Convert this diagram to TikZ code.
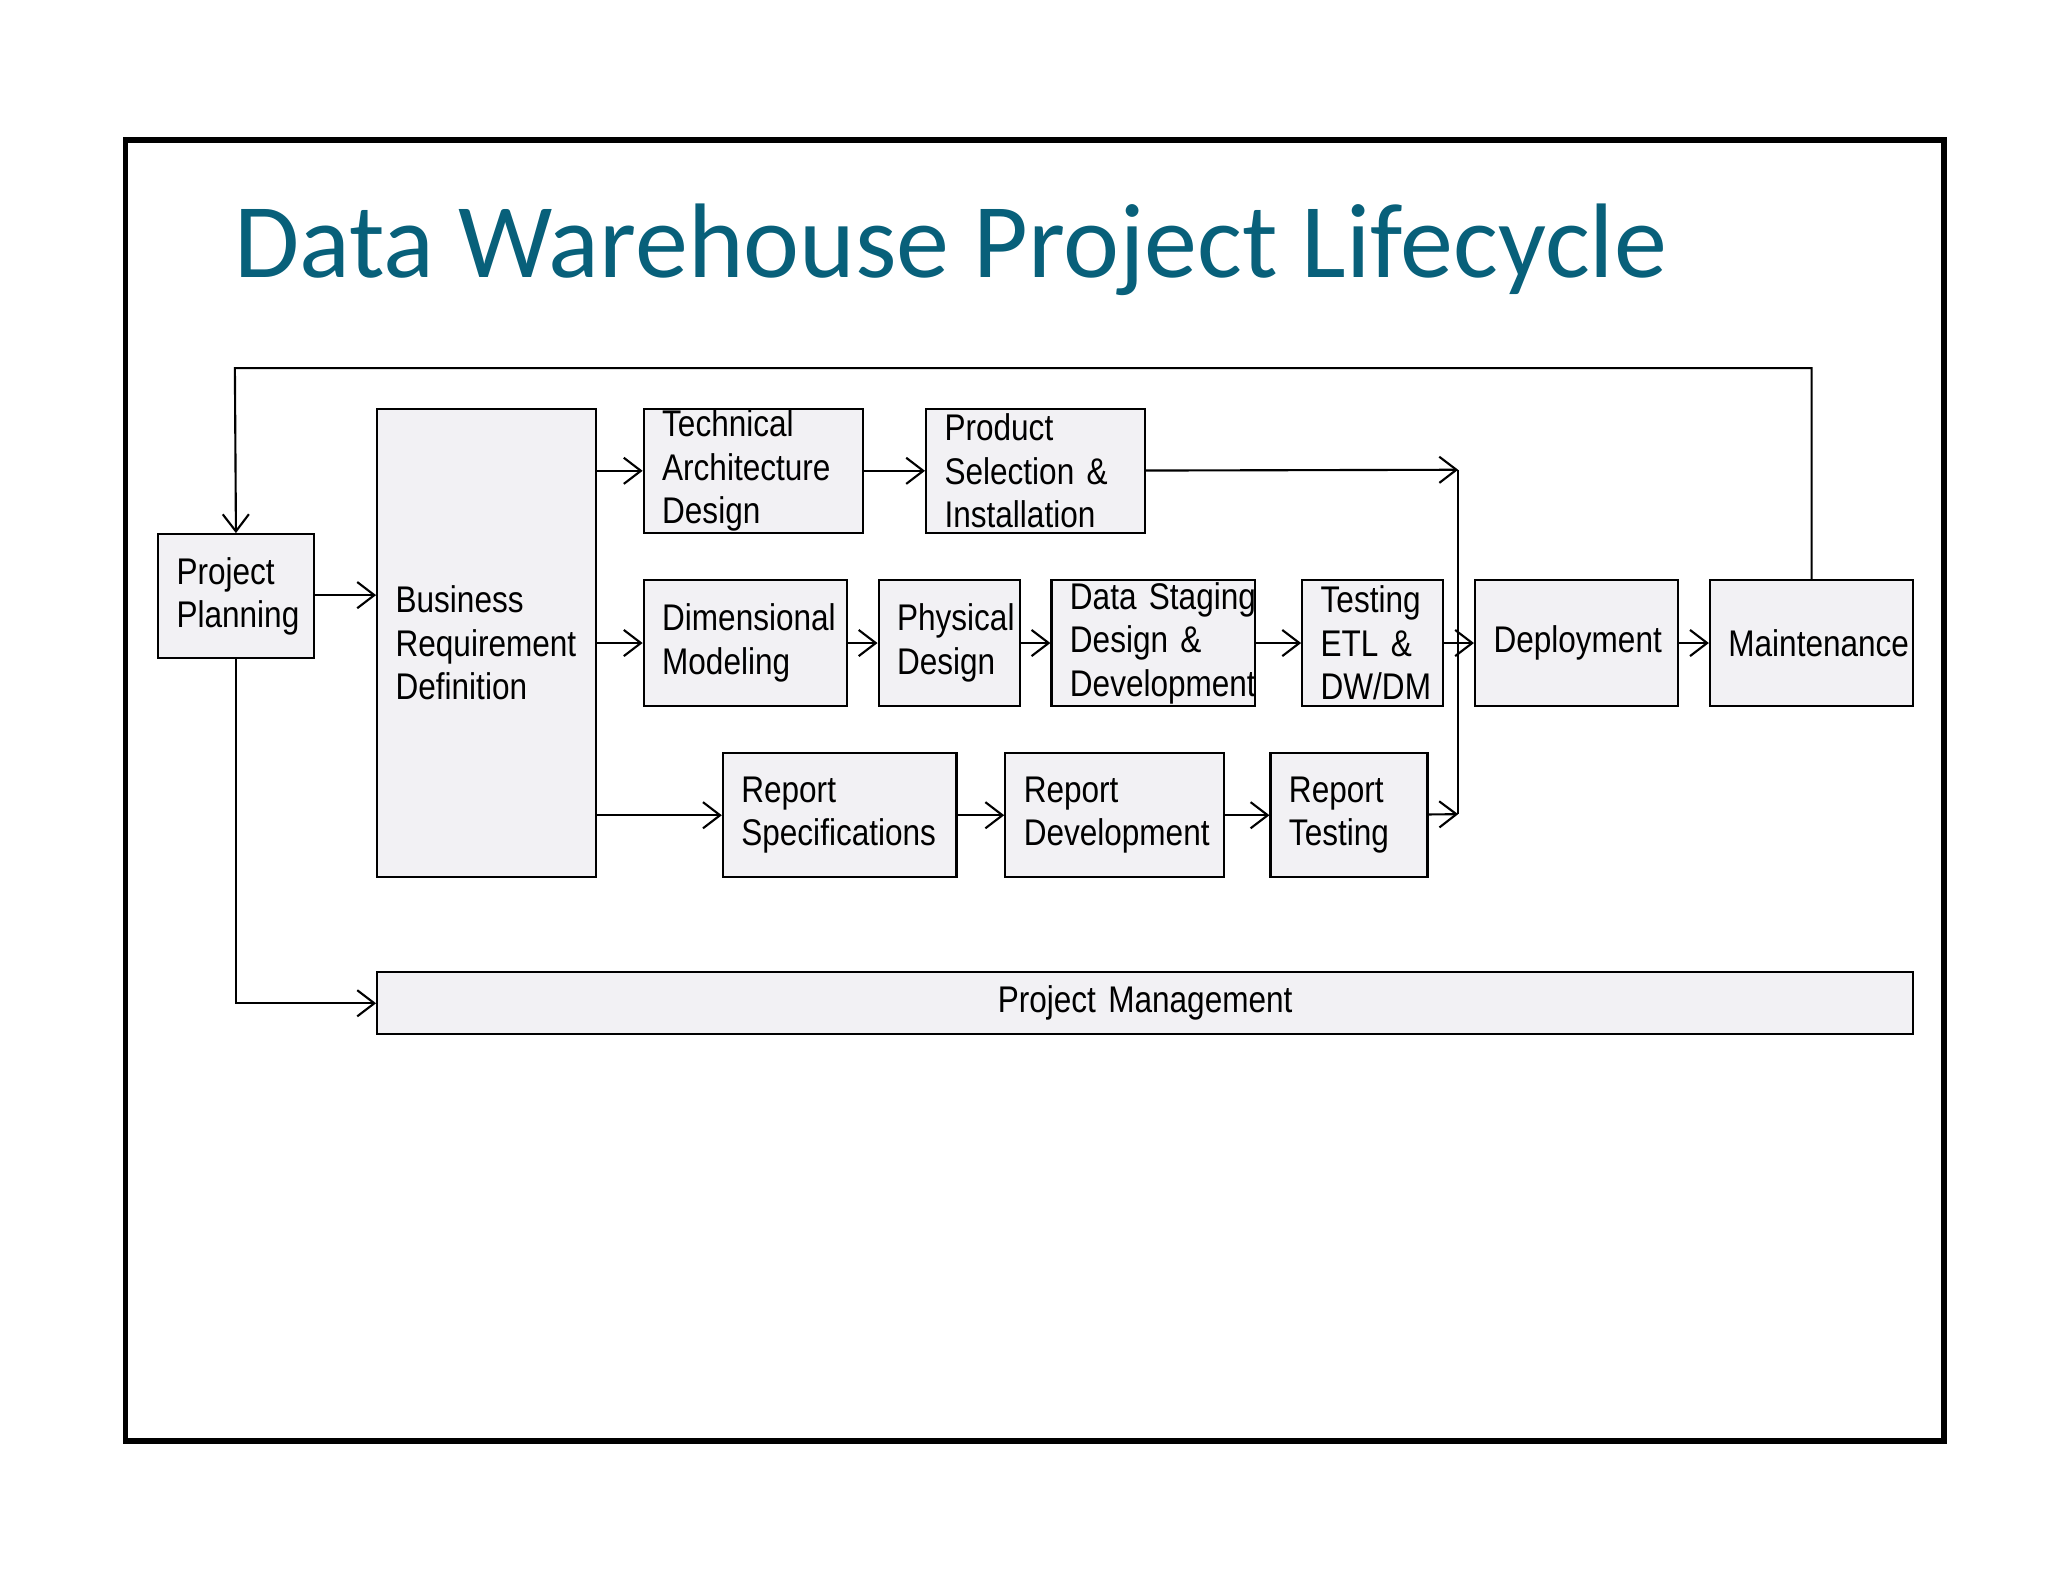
\documentclass[tikz,border=0pt]{standalone}
\usepackage{fontspec}
\setmainfont{Liberation Sans}[FakeStretch=0.85]
\newfontfamily\titlefont{Carlito}
\usetikzlibrary{arrows.meta}
\definecolor{boxfill}{RGB}{242,241,244}
\definecolor{titleblue}{RGB}{8,96,122}
\newcommand{\px}{0.01313cm}
\begin{document}
\begin{tikzpicture}[x=0.01313cm,y=-0.01313cm,>={Straight Barb[length=0.17cm,width=0.26cm]}]
	\tikzstyle{box} = [rectangle,draw,fill=boxfill,line width=0.6pt,font=\fontsize{10.5}{12.3}\selectfont,align=left,inner xsep=14*\px,inner ysep=0pt,anchor=north west]
	\tikzstyle{link} = [->,line width=0.6pt]
	\useasboundingbox (0,0) rectangle (1552,1199);
	\draw[line width=1.6pt] (95,106) rectangle (1473,1092);
	\node[anchor=base west,text=titleblue,inner sep=0pt,font=\titlefont\fontsize{30}{34}\selectfont] (title) at (177,210) {Data Warehouse Project Lifecycle};
	
	\node[box,minimum width={118*\px},minimum height={94*\px},text width={90*\px}] (pp) at (119,404) {Project\\Planning};
	\node[box,minimum width={166*\px},minimum height={355*\px},text width={138*\px}] (brd) at (285,309) {Business\\Requirement\\Definition};
	\node[box,minimum width={166*\px},minimum height={94*\px},text width={138*\px}] (tad) at (487,309) {Technical\\Architecture\\Design};
	\node[box,minimum width={166*\px},minimum height={94*\px},text width={138*\px}] (psi) at (701,309) {Product\\Selection \&\\Installation};
	\node[box,minimum width={154*\px},minimum height={95*\px},text width={126*\px}] (dm) at (487,439) {Dimensional\\Modeling};
	\node[box,minimum width={107*\px},minimum height={95*\px},text width={79*\px}] (phd) at (665,439) {Physical\\Design};
	\node[box,minimum width={154*\px},minimum height={95*\px},text width={126*\px}] (dsd) at (796,439) {\mbox{Data Staging}\\Design \&\\\mbox{Development}};
	\node[box,minimum width={107*\px},minimum height={95*\px},text width={79*\px}] (tst) at (986,439) {Testing\\ETL \&\\DW/DM};
	\node[box,minimum width={154*\px},minimum height={95*\px},text width={126*\px}] (dep) at (1117,439) {Deployment};
	\node[box,minimum width={154*\px},minimum height={95*\px},text width={126*\px}] (mnt) at (1295,439) {Maintenance};
	\node[box,minimum width={177*\px},minimum height={94*\px},text width={149*\px}] (rs) at (547,570) {Report\\Specifications};
	\node[box,minimum width={166*\px},minimum height={94*\px},text width={138*\px}] (rd) at (761,570) {Report\\Development};
	\node[box,minimum width={119*\px},minimum height={94*\px},text width={91*\px}] (rt) at (962,570) {Report\\Testing};
	\node[box,minimum width={1164*\px},minimum height={47*\px},align=center,text width={1136*\px}] (pm) at (285,736) {Project Management};
	
	\coordinate (jtop) at (1105,356);
	\coordinate (jbot) at (1105,617);
	
	\draw[link] (pp.east |- 0,451) -- (brd.west |- 0,451);
	\draw[link] (brd.east |- tad.east) -- (tad.east -| tad.west);
	\draw[link] (tad) -- (psi);
	\draw[link] (brd.east |- dm) -- (dm);
	\draw[link] (dm) -- (phd);
	\draw[link] (phd) -- (dsd);
	\draw[link] (dsd) -- (tst);
	\draw[link] (tst) -- (dep);
	\draw[link] (dep) -- (mnt);
	\draw[link] (brd.east |- rs) -- (rs);
	\draw[link] (rs) -- (rd);
	\draw[link] (rd) -- (rt);
	\draw[link] (psi) -- (jtop);
	\draw[link] (rt) -- (jbot);
	\draw[line width=0.6pt] (jtop) -- (jbot);
	\draw[link] (mnt.north) |- (178,279) -- (pp.north);
	\draw[link] (pp.south) |- (pm.west);
\end{tikzpicture}
\end{document}
